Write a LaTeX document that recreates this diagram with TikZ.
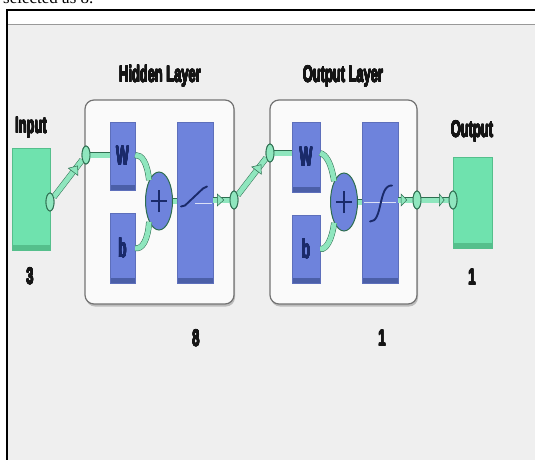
\documentclass[tikz,border=0pt]{standalone}
\usepackage{fontspec}
\usepackage{contour}
\contourlength{0.25pt}
\contournumber{16}
\setmainfont{Liberation Serif}
\newfontfamily\cond[FakeStretch=0.56]{Liberation Sans Bold}
\newfontfamily\condw[FakeStretch=0.5]{Liberation Sans Bold}
\usetikzlibrary{shapes.geometric,shadows,arrows.meta,calc}
\definecolor{bg}{HTML}{EFEFEF}
\definecolor{boxbg}{HTML}{FAFAFA}
\definecolor{bl}{HTML}{6E83DC}
\definecolor{bld}{HTML}{4B5FA8}
\definecolor{navy}{HTML}{1A2A6A}
\definecolor{gr}{HTML}{6FE2AE}
\definecolor{grd}{HTML}{55BF8C}
\definecolor{mint}{HTML}{8FE6BE}
\definecolor{lined}{HTML}{2E6E50}
\definecolor{ink}{HTML}{151515}
\newcommand{\heavy}[1]{\contour{ink}{#1}}
\newcommand{\heavyb}[1]{\contour{navy}{#1}}
\tikzset{
  lbl/.style={font=\cond\fontsize{23}{23}\selectfont, text=ink, inner sep=0pt, anchor=base},
  wb/.style={font=\condw\fontsize{27}{27}\selectfont, text=navy},
  layerbox/.style={draw=black!55, line width=1.2pt, fill=boxbg, rounded corners=9pt,
    drop shadow={shadow xshift=1pt, shadow yshift=-2.5pt, opacity=0.45}},
  bluebox/.style={rectangle, fill=bl, draw=bl!85!black, line width=0.3pt, inner sep=0pt,
    path picture={\fill[bld] (path picture bounding box.south west) rectangle ([yshift=5pt]path picture bounding box.south east);}},
  greenbox/.style={rectangle, fill=gr, draw=grd, line width=0.4pt, inner sep=0pt,
    path picture={\fill[grd] (path picture bounding box.south west) rectangle ([yshift=5pt]path picture bounding box.south east);}},
  sumnode/.style={ellipse, fill=bl, draw=lined, line width=1pt, minimum width=27pt, minimum height=58pt, inner sep=0pt},
  port/.style={ellipse, fill=mint, draw=lined, line width=0.9pt, minimum width=8pt, minimum height=18pt, inner sep=0pt},
  wire/.style={draw=lined, line width=0.5pt, double=mint, double distance=5pt},
  tipmark/.style={fill=mint, draw=lined, line width=0.5pt},
}
\begin{document}
\begin{tikzpicture}[x=1pt,y=-1pt]
\useasboundingbox (0,0) rectangle (535,460);
\fill[white] (0,0) rectangle (535,460);
\begin{scope}
\clip (0,0) rectangle (535,460);
\node[anchor=base west, font=\fontsize{17}{17}\selectfont, inner sep=0pt] (top) at (3,4) {selected as 8.};
\end{scope}
% window
\fill[bg] (7,10) rectangle (535,460);
\fill[white] (7,11) rectangle (535,24);
\draw[black!40, line width=1.2pt] (7,24.5) -- (535,24.5);
\draw[black, line width=2pt] (7,460) -- (7,10) -- (535,10);

% labels
\node[lbl] (hidlbl) at (160,82) {\heavy{Hidden Layer}};
\node[lbl] (outlbl) at (343,82) {\heavy{Output Layer}};
\node[lbl] (inlbl) at (31,133) {\heavy{Input}};
\node[lbl] (outputlbl) at (472,137) {\heavy{Output}};
\node[lbl] (n3) at (30,284) {\heavy{3}};
\node[lbl] (n1o) at (472,285) {\heavy{1}};
\node[lbl] (n8) at (196,346) {\heavy{8}};
\node[lbl] (n1) at (382,346) {\heavy{1}};

% layer containers
\path[layerbox] (85,100) rectangle (234,304);
\path[layerbox] (270,100) rectangle (417,304);

% input / output
\node[greenbox, minimum width=38pt, minimum height=102pt] (inbox) at (31,199) {};
\node[greenbox, minimum width=39pt, minimum height=91pt] (outbox) at (472.5,202.5) {};

% hidden layer
\node[bluebox, wb, minimum width=25pt, minimum height=68pt] (w1) at (122.5,156) {\heavyb{W}};
\node[bluebox, wb, minimum width=25pt, minimum height=70pt] (b1) at (122.5,248) {\heavyb{b}};
\node[sumnode] (s1) at (159,201) {};
\node[bluebox, minimum width=36pt, minimum height=161pt] (f1) at (195,202.5) {};

% output layer
\node[bluebox, wb, minimum width=28pt, minimum height=70pt] (w2) at (306,157) {\heavyb{W}};
\node[bluebox, wb, minimum width=28pt, minimum height=68pt] (b2) at (306,249) {\heavyb{b}};
\node[sumnode] (s2) at (344,202) {};
\node[bluebox, minimum width=36pt, minimum height=161pt] (f2) at (380,202.5) {};

% plus signs
\draw[navy, line width=2.4pt] ([xshift=-8pt]s1.center) -- ([xshift=8pt]s1.center);
\draw[navy, line width=2.4pt] ([yshift=-11pt]s1.center) -- ([yshift=11pt]s1.center);
\draw[navy, line width=2.4pt] ([xshift=-8pt]s2.center) -- ([xshift=8pt]s2.center);
\draw[navy, line width=2.4pt] ([yshift=-11pt]s2.center) -- ([yshift=11pt]s2.center);

% transfer symbols
\draw[white!75!bl, line width=0.8pt] ([xshift=0pt,yshift=-1pt]f1.center) -- ([xshift=17pt,yshift=-1pt]f1.center);
\draw[navy, line width=1.9pt, line cap=round] ([xshift=-14pt,yshift=-4pt]f1.center) -- ([xshift=-10pt,yshift=-3pt]f1.center) -- ([xshift=8pt,yshift=14pt]f1.center) -- ([xshift=12pt,yshift=16pt]f1.center);
\draw[white!75!bl, line width=0.8pt] ([xshift=-16pt]f2.center) -- ([xshift=16pt]f2.center);
\draw[navy, line width=1.9pt, line cap=round] ([xshift=-10pt,yshift=-19pt]f2.center) .. controls ([xshift=3pt,yshift=-20pt]f2.center) and ([xshift=-2pt,yshift=18pt]f2.center) .. ([xshift=12pt,yshift=17pt]f2.center);

% ports
\node[port] (pin) at (50,202) {};
\node[port] (ph1) at (86,155) {};
\node[port] (ph2) at (234,200) {};
\node[port] (po1) at (270,153) {};
\node[port] (po2) at (417,200) {};
\node[port] (pout) at (453,200) {};

% wires
\draw[wire] (pin) -- (ph1);
\draw[wire] (ph1) -- (w1.west |- ph1);
\draw[wire] (w1.east |- ph1) .. controls (142,155) and (147,162) .. (s1.north west);
\draw[wire] (b1.east) .. controls (142,250) and (148,240) .. (s1.south west);
\draw[wire] (s1.east) -- (f1.west |- s1.east);
\draw[wire] (f1.east |- ph2) -- (ph2);
\draw[wire] (ph2) -- (po1);
\draw[wire] (po1) -- (w2.west |- po1);
\draw[wire] (w2.east |- po1) .. controls (326,155) and (331,162) .. (s2.north west);
\draw[wire] (b2.east) .. controls (326,250) and (332,240) .. (s2.south west);
\draw[wire] (s2.east) -- (f2.west |- s2.east);
\draw[wire] (f2.east |- po2) -- (po2);
\draw[wire] (po2) -- (pout);
% arrow chevrons on the wires
\foreach \a/\b/\t/\u in {pin/ph1/0.68/0.84, ph2/po1/0.66/0.82, po2/pout/0.66/0.84} {
  \path (\a) -- (\b) coordinate[pos=\t] (tipc) coordinate[pos=\u] (tipd);
  \draw[tipmark] (tipc) -- ($(tipc)!6pt!90:(tipd)$) -- (tipd) -- ($(tipc)!6pt!-90:(tipd)$) -- cycle;
}
\path (f1.east |- ph2) -- (ph2) coordinate[pos=0.25] (tipe) coordinate[pos=0.65] (tipf);
\draw[tipmark] (tipe) -- ($(tipe)!6pt!90:(tipf)$) -- (tipf) -- ($(tipe)!6pt!-90:(tipf)$) -- cycle;
\path (f2.east |- po2) -- (po2) coordinate[pos=0.2] (tipg) coordinate[pos=0.6] (tiph);
\draw[tipmark] (tipg) -- ($(tipg)!6pt!90:(tiph)$) -- (tiph) -- ($(tipg)!6pt!-90:(tiph)$) -- cycle;
% redraw ports on top
\foreach \p in {pin,ph1,ph2,po1,po2,pout} {\node[port] at (\p) {};}
\end{tikzpicture}
\end{document}
